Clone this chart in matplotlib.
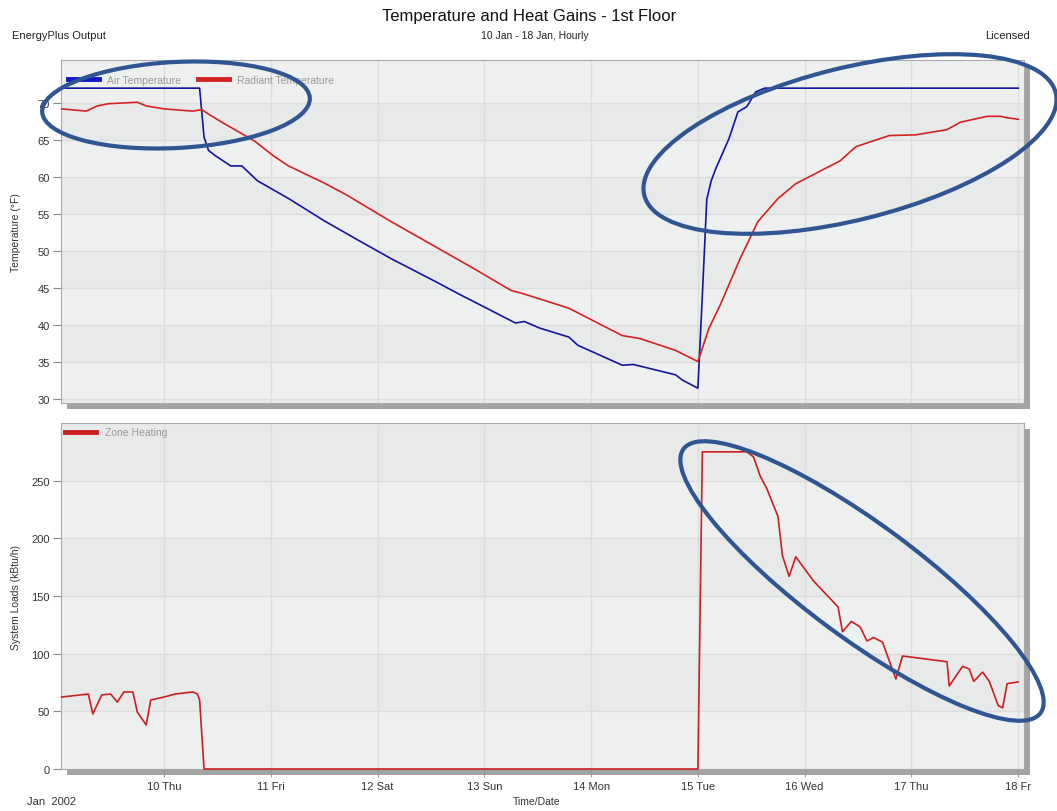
import matplotlib
matplotlib.use('Agg')
import matplotlib.pyplot as plt
from matplotlib.patches import Ellipse, Rectangle
from matplotlib.lines import Line2D

plt.rcParams['font.family'] = ['Liberation Sans', 'DejaVu Sans']

# hours counted from 9 Jan 00:00
day_ticks = [24, 48, 72, 96, 120, 144, 168, 192, 216]
day_labels = ['10 Thu', '11 Fri', '12 Sat', '13 Sun', '14 Mon',
              '15 Tue', '16 Wed', '17 Thu', '18 Fr']

air_hours = [1, 32, 33, 34, 35.5, 39, 41.5, 45, 52, 60, 67, 75, 85, 90,
             103, 105, 108.5, 115, 117, 127, 129.5, 139, 140.5, 144,
             145, 146, 147, 148, 151, 153, 155, 157, 159, 216]
air_temp = [72, 72, 65.4, 63.6, 62.9, 61.5, 61.5, 59.5, 57.1, 54.1, 51.7,
            49.0, 45.9, 44.3, 40.3, 40.5, 39.6, 38.4, 37.3, 34.6, 34.7,
            33.3, 32.6, 31.5, 44.0, 57.0, 59.5, 61.1, 65.2, 68.8, 69.5,
            71.5, 72, 72]

rad_hours = [1, 6.5, 9, 11.5, 18, 20, 24, 30.5, 32.5, 34, 37, 40.5, 44.5,
             48.5, 52, 60, 65, 75, 93.5, 102, 104.5, 115, 127, 131, 139,
             144, 146.5, 149, 153.5, 157.5, 162, 166, 176, 179.5, 187,
             193, 200, 203, 209, 212, 213.5, 216]
rad_temp = [69.2, 68.9, 69.6, 69.9, 70.1, 69.6, 69.2, 68.9, 69.1, 68.5,
            67.4, 66.2, 64.8, 62.9, 61.5, 59.2, 57.6, 54.0, 47.7, 44.7,
            44.3, 42.3, 38.6, 38.2, 36.6, 35.1, 39.6, 42.7, 49.0, 54.0,
            57.1, 59.1, 62.2, 64.1, 65.6, 65.7, 66.4, 67.4, 68.2, 68.2,
            68.0, 67.8]

heat_hours = [1, 7, 8, 10, 12, 13.5, 15, 17, 18, 20, 21, 24, 26.5, 30.5,
              31.5, 32, 33, 144, 145, 155, 156.5, 158, 159.5, 162, 163,
              164.5, 166, 170, 175.5, 176.5, 178.5, 180.5, 182, 183.5,
              185.5, 188.5, 190, 200, 200.5, 203.5, 205, 206, 208, 209.5,
              211.5, 212.5, 213.5, 216]
heat_load = [62.4, 65, 47.7, 64.2, 65, 58, 66.8, 66.8, 49.4, 38.2, 59.8,
             62.4, 65, 66.8, 65, 60, 0, 0, 275, 275, 270.6, 254, 243, 219,
             185, 167, 184, 163, 140.5, 119, 128, 123, 111, 114, 110, 78,
             98, 93, 72, 89, 86.7, 76, 84, 76, 55, 53, 74, 75.5]

W, H = 1057, 812


def box(l, t, r, b):
    return [l / W, 1 - b / H, (r - l) / W, (b - t) / H]


def style(ax, yticks, ylim):
    ax.set_xlim(0.85, 217.3)
    ax.set_ylim(*ylim)
    ax.set_facecolor('#ebeded')
    edges = list(yticks) + [ylim[1]]
    for i in range(len(edges) - 1):
        ax.axhspan(edges[i], edges[i + 1], color='#e8eaea' if i % 2 else '#eef0f0',
                   lw=0, zorder=0)
    ax.set_yticks(yticks)
    ax.set_xticks(day_ticks)
    ax.grid(color='#dcdede', lw=1, zorder=1)
    ax.set_axisbelow(True)
    for s in ax.spines.values():
        s.set_color('#aaaaaa')
    ax.tick_params(axis='y', direction='out', length=6, color='#888888',
                   labelsize=8, labelcolor='#333333', pad=2)


fig = plt.figure(figsize=(W / 100, H / 100), dpi=100)

bg = fig.add_axes([0, 0, 1, 1], zorder=0)
bg.set_xlim(0, W)
bg.set_ylim(H, 0)
bg.axis('off')
for (l, t, r, b) in [(61, 61, 1024, 404), (61, 424, 1024, 770)]:
    bg.add_patch(Rectangle((l + 6, t + 6), r - l, b - t, color='#a3a3a3', lw=0))

ax1 = fig.add_axes(box(61, 61, 1024, 404), zorder=1)
style(ax1, [30, 35, 40, 45, 50, 55, 60, 65, 70], (29.5, 75.8))
ax1.plot(air_hours, air_temp, color='#1414a0', lw=1.2, zorder=3)
ax1.plot(rad_hours, rad_temp, color='#d42222', lw=1.2, zorder=3)
ax1.tick_params(axis='x', length=0, labelbottom=False)
ax1.set_ylabel('Temperature (°F)', fontsize=7.5, color='#333333')
ax1.yaxis.set_label_coords(-0.042, 0.5)
ax1.legend([Line2D([], [], color='#1414c8', lw=3.5),
            Line2D([], [], color='#d42222', lw=3.5)],
           ['Air Temperature', 'Radiant Temperature'],
           loc='upper left', bbox_to_anchor=(-0.004, 0.988), ncol=2, frameon=False,
           fontsize=7.5, labelcolor='#999999', handlelength=3.0,
           handletextpad=0.8, columnspacing=1.6, borderaxespad=0.6)

ax2 = fig.add_axes(box(61, 424, 1024, 770), zorder=1)
style(ax2, [0, 50, 100, 150, 200, 250], (0, 300))
ax2.plot(heat_hours, heat_load, color='#cc1f1f', lw=1.2, zorder=3, clip_on=False)
ax2.set_xticklabels(day_labels)
ax2.tick_params(axis='x', direction='out', length=6, color='#999999',
                labelsize=8, labelcolor='#333333', pad=3)
ax2.set_ylabel('System Loads (kBtu/h)', fontsize=7.5, color='#333333')
ax2.yaxis.set_label_coords(-0.042, 0.5)
ax2.legend([Line2D([], [], color='#cc1f1f', lw=3.5)], ['Zone Heating'],
           loc='upper left', bbox_to_anchor=(0, 1.0), frameon=False,
           fontsize=7.5, labelcolor='#999999', handlelength=3.0,
           handletextpad=0.8, borderaxespad=0.0)

fig.text(529 / W, 1 - 17 / H, 'Temperature and Heat Gains - 1st Floor',
         ha='center', va='center', fontsize=12, color='#111111')
fig.text(535 / W, 1 - 36 / H, '10 Jan - 18 Jan, Hourly',
         ha='center', va='center', fontsize=7.5, color='#222222')
fig.text(12 / W, 1 - 36 / H, 'EnergyPlus Output',
         ha='left', va='center', fontsize=8, color='#222222')
fig.text(1030 / W, 1 - 36 / H, 'Licensed',
         ha='right', va='center', fontsize=8, color='#222222')
fig.text(537 / W, 1 - 802 / H, 'Time/Date',
         ha='center', va='center', fontsize=7.5, color='#333333')
fig.text(27 / W, 1 - 802 / H, 'Jan  2002',
         ha='left', va='center', fontsize=8, color='#333333')

# hand-drawn highlight ellipses
ov = fig.add_axes([0, 0, 1, 1], zorder=5)
ov.set_xlim(0, W)
ov.set_ylim(H, 0)
ov.axis('off')
ov.patch.set_alpha(0)
for (cx, cy, w, h, ang) in [(176, 106, 268, 86, -3),
                            (850, 145, 424, 152, -14),
                            (862, 582, 444, 114, 36.5)]:
    ov.add_patch(Ellipse((cx, cy), w, h, angle=ang, fill=False,
                         edgecolor='#2f5592', lw=3, clip_on=False))

fig.savefig('out.png', dpi=100)
